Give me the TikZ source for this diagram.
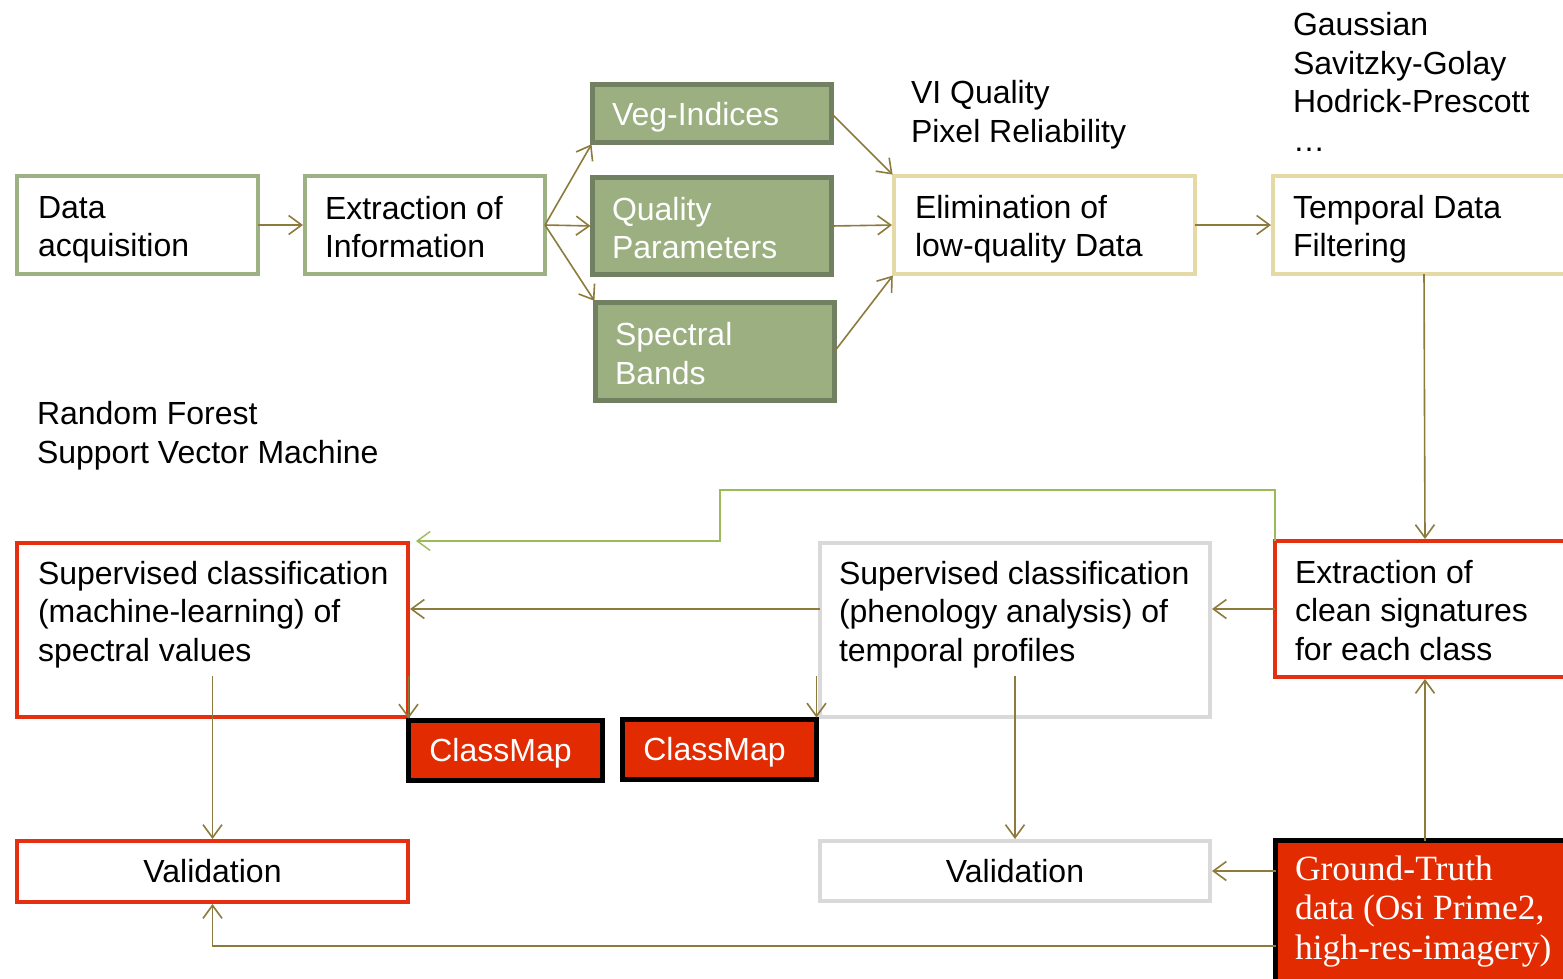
\documentclass[tikz,border=0pt]{standalone}
\usepackage{fontspec}
\setmainfont{Liberation Sans}
\newfontfamily\gtfont{Liberation Serif}
\usetikzlibrary{arrows.meta}
\definecolor{lgreen}{HTML}{9CB283}
\definecolor{dgfill}{HTML}{9BAF80}
\definecolor{dgdraw}{HTML}{718060}
\definecolor{tan}{HTML}{E5DAA6}
\definecolor{myred}{HTML}{E43011}
\definecolor{mapred}{HTML}{E22B00}
\definecolor{mygrey}{HTML}{D9D9D9}
\definecolor{olive}{HTML}{8C7B3C}
\definecolor{thingreen}{HTML}{9BBB59}
\begin{document}
\begin{tikzpicture}[x=1pt,y=-1pt,
  every node/.style={inner sep=0pt, outer sep=0pt},
  bx/.style={rectangle, inner sep=0pt, font=\fontsize{32}{38.5}\selectfont},
  gbox/.style={bx, draw=lgreen, line width=4pt, fill=white},
  dbox/.style={bx, draw=dgdraw, fill=dgfill, line width=5pt},
  tbox/.style={bx, draw=tan, line width=4pt, fill=white},
  rbox/.style={bx, draw=myred, line width=4pt, fill=white},
  ybox/.style={bx, draw=mygrey, line width=4pt, fill=white},
  mbox/.style={bx, draw=black, fill=mapred, line width=5pt, text=white},
  gtbox/.style={bx, draw=black, fill=mapred, line width=5pt},
  txt/.style={align=left, font=\fontsize{32}{38.5}\selectfont},
  wtxt/.style={txt, text=white},
  arr/.style={draw=olive, line width=1.6pt, shorten >=2pt, -{Straight Barb[length=13pt,width=19pt]}},
  garr/.style={draw=thingreen, line width=1.4pt, -{Straight Barb[length=13pt,width=19pt]}}
]
\clip (0,0) rectangle (1563,978);
\fill[white] (0,0) rectangle (1563,978);

% top row boxes
\node[gbox, minimum width=241pt, minimum height=98pt] (acq) at (137.5,225) {};
\node[gbox, minimum width=240pt, minimum height=98pt] (ext) at (425,225) {};
\node[dbox, minimum width=239pt, minimum height=58pt] (veg) at (712,113.5) {};
\node[dbox, minimum width=239pt, minimum height=97pt] (qual) at (712,226) {};
\node[dbox, minimum width=239pt, minimum height=98pt] (spec) at (715,351.5) {};
\node[tbox, minimum width=301pt, minimum height=98pt] (elim) at (1044.5,225) {};
\node[tbox, minimum width=302pt, minimum height=98pt] (temp) at (1424,225) {};

\node[txt, anchor=west] (acqt) at ([xshift=21pt,yshift=-5pt]acq.west) {Data\\acquisition};
\node[txt, anchor=west] (extt) at ([xshift=20pt,yshift=-2pt]ext.west) {Extraction of\\Information};
\node[wtxt, anchor=west] (vegt) at ([xshift=19.5pt,yshift=-3.5pt]veg.west) {Veg-Indices};
\node[wtxt, anchor=west] (qualt) at ([xshift=19.5pt,yshift=-2pt]qual.west) {Quality\\Parameters};
\node[wtxt, anchor=west] (spect) at ([xshift=19.5pt,yshift=-2pt]spec.west) {Spectral\\Bands};
\node[txt, anchor=west] (elimt) at ([xshift=21pt,yshift=-4pt]elim.west) {Elimination of\\low-quality Data};
\node[txt, anchor=west] (tempt) at ([xshift=20pt,yshift=-4pt]temp.west) {Temporal Data\\Filtering};

% free labels
\node[txt, anchor=north west] (gauss) at (1293,12.5) {Gaussian\\Savitzky-Golay\\Hodrick-Prescott\\\ldots};
\node[txt, anchor=north west] (viq) at (911,80.5) {VI Quality\\Pixel Reliability};
\node[txt, anchor=north west] (rf) at (37,401.5) {Random Forest\\Support Vector Machine};

% lower boxes
\node[rbox, minimum width=391pt, minimum height=174pt] (ml) at (212.5,630) {};
\node[ybox, minimum width=390pt, minimum height=174pt] (phen) at (1015,630) {};
\node[rbox, minimum width=300pt, minimum height=136pt] (clean) at (1425,609) {};
\node[rbox, minimum width=391pt, minimum height=61pt] (val1) at (212.5,871.5) {Validation};
\node[ybox, minimum width=390pt, minimum height=60pt] (val2) at (1015,871) {Validation};
\node[mbox, minimum width=194pt, minimum height=60pt] (cm1) at (505.5,750.5) {};
\node[mbox, minimum width=194pt, minimum height=60pt] (cm2) at (719.5,749.5) {};
\node[wtxt] (cm1t) at ([xshift=-5pt,yshift=-3pt]cm1.center) {ClassMap};
\node[wtxt] (cm2t) at ([xshift=-5pt,yshift=-3pt]cm2.center) {ClassMap};
\node[gtbox, minimum width=299pt, minimum height=159.5pt] (gt) at (1425,920.25) {};

\node[txt, anchor=north west] (mlt) at ([xshift=21pt,yshift=-18pt]ml.north west) {Supervised classification\\(machine-learning) of\\spectral values};
\node[txt, anchor=north west] (phent) at ([xshift=19pt,yshift=-18pt]phen.north west) {Supervised classification\\(phenology analysis) of\\temporal profiles};
\node[txt, anchor=north west] (cleant) at ([xshift=20pt,yshift=-19pt]clean.north west) {Extraction of\\clean signatures\\for each class};
\node[align=left, text=white, font=\gtfont\fontsize{35.5}{39.5}\selectfont, anchor=north west] (gtt) at ([xshift=19.5pt,yshift=-15pt]gt.north west) {Ground-Truth\\data (Osi Prime2,\\high-res-imagery)};

% coordinates
\coordinate (mlv) at (212.5,676);
\coordinate (gtb) at (1275.5,946);
\coordinate (g1) at (1275,490);
\coordinate (g2) at (720,490);
\coordinate (g3) at (720,541);

% connectors
\draw[arr] (acq.east) -- (ext.west);
\draw[arr] (ext.east) -- (veg.south west);
\draw[arr] (ext.east) -- (qual.west);
\draw[arr] (ext.east) -- (spec.north west);
\draw[arr] (veg.east) -- (elim.north west);
\draw[arr] (qual.east) -- (elim.west);
\draw[arr] (spec.east) -- (elim.south west);
\draw[arr] (elim.east) -- (temp.west);
\draw[arr] (temp.south) -- (clean.north);
\draw[arr] (gt.north) -- (clean.south);
\draw[arr] (val2.east -| gt.west) -- (val2.east);
\draw[arr] (gtb) -| (val1.south);
\draw[arr] (clean.west) -- (clean.west -| phen.east);
\draw[arr] (phen.west |- clean.west) -- (ml.east |- clean.west);
\draw[garr, shorten >=8pt] (clean.north west) -- (g1) -- (g2) -- (g3) -- (g3 -| ml.east);
\draw[arr] (mlv) -- (val1.north);
\draw[arr] (cm1.north west |- mlv) -- (cm1.north west);
\draw[arr] (cm2.north east |- mlv) -- (cm2.north east);
\draw[arr] (val2.north |- mlv) -- (val2.north);
\end{tikzpicture}
\end{document}
